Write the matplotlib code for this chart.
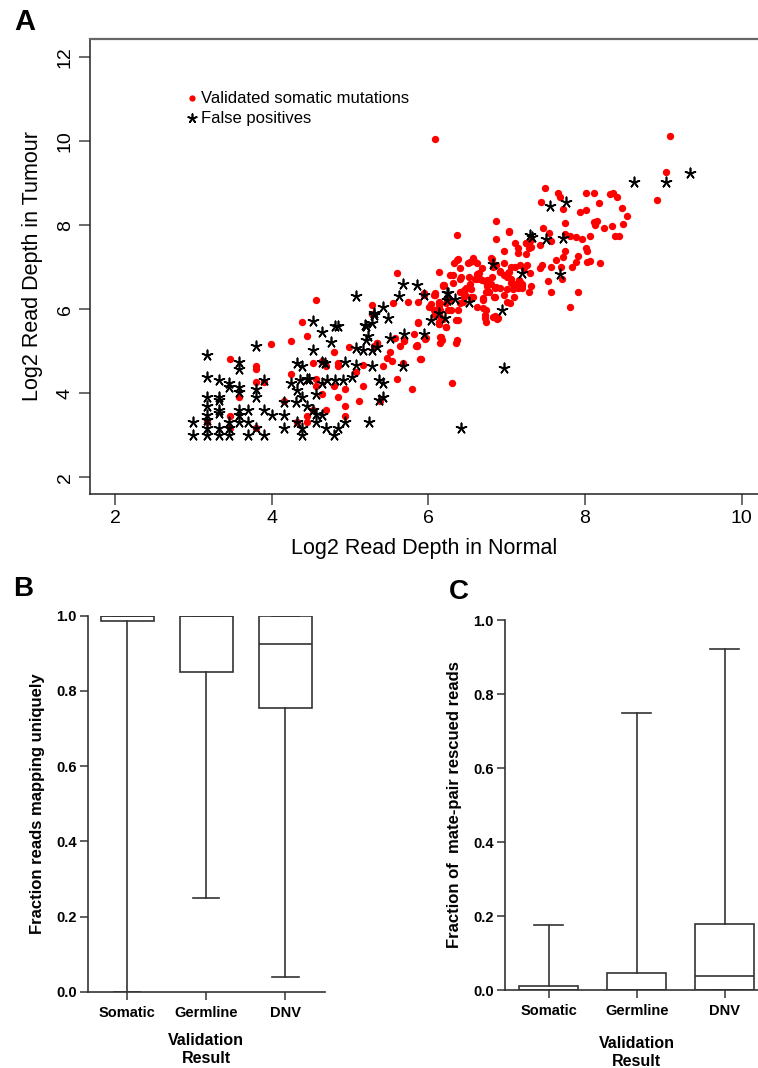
import matplotlib
matplotlib.use("Agg")
import matplotlib.pyplot as plt
from matplotlib import font_manager as fm
import numpy as np

# ---------------- data ----------------
# Panel A: validated somatic mutations (red dots), log2 read depth (normal, tumour)
som_x = [6.08, 9.09, 9.03, 8.92,
         7.49, 7.65, 7.68, 7.44, 7.72, 8.01, 8.12, 8.18, 8.32, 8.36, 8.41, 8.47, 8.54, 7.94, 8.01, 7.74,
         8.11, 8.16, 8.13, 8.24, 8.34, 8.48, 8.38, 8.43, 8.06, 8.01, 8.02, 7.91, 7.89, 8.02, 8.06, 8.19,
         7.47, 7.54, 7.57, 7.43, 7.74, 7.81, 7.88, 7.96, 7.74, 7.72, 7.63, 7.70, 7.57, 7.45, 7.42, 7.53,
         7.57, 7.71, 7.91, 7.81, 7.84,
         6.87, 7.03, 6.87, 7.11, 6.36, 6.97, 7.15, 7.15, 7.25, 7.31, 7.31, 7.25, 7.03, 7.25, 7.29,
         7.17, 7.22, 7.30, 7.31, 7.29, 7.17, 7.20, 7.15, 7.06, 6.97, 6.80, 6.83, 6.91, 6.96, 7.02, 7.00,
         7.05, 7.09, 7.04, 7.01, 6.87, 7.26, 7.10, 6.92, 7.03, 7.06, 7.11, 7.16, 7.20, 7.19, 7.08, 6.96,
         7.00, 6.84,
         6.68, 6.75, 6.79, 6.74, 6.85, 6.91, 6.85, 6.70, 6.72, 6.82, 6.88, 6.74, 6.70, 6.64, 6.66, 6.74,
         6.75, 6.53, 6.57, 6.62, 6.38, 6.33, 6.41, 6.28, 6.14, 6.19, 6.40, 6.52, 6.53, 6.52, 6.55, 6.45,
         6.65, 6.38, 6.29, 6.25, 6.23, 6.14, 6.14, 6.08, 6.01, 6.08, 6.14, 6.23, 6.16, 6.17, 6.37, 6.35,
         5.96, 5.84, 5.89, 5.87, 5.74, 5.87, 5.69, 5.82,
         6.51, 6.58, 6.81, 6.42, 6.62, 6.69, 6.80, 6.81, 6.87, 6.70, 6.77, 6.57, 6.62, 6.74, 6.85, 6.89,
         6.72, 6.55, 6.45, 6.47, 6.28, 6.44, 6.38, 6.19, 6.07, 5.94, 6.15, 6.13, 6.08, 6.19, 6.14, 6.35,
         6.03, 5.97, 5.85, 6.40, 6.45, 6.32, 6.31, 6.48, 6.60, 6.62, 6.36, 6.40, 6.30,
         5.60, 6.20, 5.94, 6.08, 5.55, 6.07, 6.14, 6.25, 6.14, 6.22, 5.87, 5.34, 5.30, 5.57, 5.69, 5.64,
         6.15, 6.15, 5.85, 5.51, 5.47, 5.54, 5.67, 5.90, 5.42, 5.60, 5.79, 5.16, 5.38,
         4.57, 5.28, 4.38, 4.45, 4.24, 3.99, 3.46, 3.80, 3.80, 3.80, 3.90, 3.58, 3.46, 3.46, 3.17, 3.80,
         4.16, 4.32, 4.45, 4.45, 4.53, 4.57, 4.57, 4.64, 4.24, 4.52, 4.64, 4.69, 4.80, 4.85, 4.85, 4.99,
         5.08, 5.16, 4.69, 4.80, 4.85, 4.94, 4.94, 4.94, 5.12, 5.34, 5.28]
som_y = [10.06, 10.12, 9.27, 8.60,
         8.89, 8.76, 8.68, 8.54, 8.38, 8.77, 8.76, 8.52, 8.74, 8.77, 8.66, 8.41, 8.22, 8.31, 8.37, 8.04,
         8.08, 8.11, 8.00, 7.94, 7.98, 8.02, 7.74, 7.74, 7.74, 7.45, 7.39, 7.27, 7.13, 7.13, 7.14, 7.11,
         7.94, 7.82, 7.63, 7.53, 7.80, 7.74, 7.72, 7.67, 7.38, 7.25, 7.17, 7.01, 7.01, 7.05, 6.99, 6.67,
         6.40, 6.73, 6.40, 6.06, 7.01,
         8.10, 7.87, 7.66, 7.58, 7.76, 7.38, 7.45, 7.33, 7.57, 7.65, 7.49, 7.31, 7.84, 7.58, 7.45,
         7.05, 6.97, 6.87, 6.56, 6.40, 6.65, 6.58, 6.50, 7.01, 7.09, 7.21, 7.01, 6.89, 6.81, 6.85, 6.77,
         6.62, 6.30, 6.14, 6.16, 7.05, 7.05, 7.01, 6.91, 6.89, 6.73, 6.60, 6.69, 6.61, 6.50, 6.47, 6.34,
         6.47, 6.30,
         6.97, 6.69, 6.60, 6.42, 6.50, 6.50, 6.30, 6.02, 5.86, 5.82, 5.77, 5.69, 6.26, 6.77, 6.71, 6.65,
         6.55, 7.13, 7.21, 7.09, 7.19, 7.09, 6.97, 6.81, 6.89, 6.56, 6.71, 6.77, 6.61, 6.54, 6.30, 6.42,
         6.85, 5.74, 5.98, 6.22, 6.14, 6.18, 6.08, 6.38, 6.06, 5.86, 5.66, 5.58, 5.35, 5.27, 5.27, 5.19,
         5.29, 5.13, 4.82, 5.69, 6.16, 6.18, 5.27, 5.41,
         7.09, 7.15, 7.19, 6.77, 6.73, 6.69, 6.61, 6.77, 6.54, 6.23, 6.42, 6.30, 6.06, 5.98, 5.84, 5.78,
         5.78, 6.47, 6.46, 6.34, 6.22, 6.18, 5.98, 6.58, 6.34, 6.34, 5.98, 5.86, 5.90, 5.76, 5.65, 5.74,
         6.12, 5.31, 5.15, 6.42, 6.30, 6.81, 6.62, 6.50, 6.73, 6.84, 7.17, 6.15, 4.24,
         6.85, 6.58, 6.39, 6.35, 6.14, 5.98, 6.14, 5.98, 5.70, 5.58, 5.68, 5.20, 5.13, 5.32, 5.25, 5.13,
         5.33, 5.20, 5.13, 4.97, 4.83, 4.77, 4.71, 4.81, 4.65, 4.33, 4.09, 4.17, 3.82,
         6.22, 6.10, 5.70, 5.37, 5.25, 5.17, 4.81, 4.66, 4.58, 4.26, 4.26, 3.90, 3.47, 3.18, 3.32, 3.18,
         3.82, 3.32, 3.46, 3.32, 3.60, 4.33, 4.17, 3.99, 4.47, 4.71, 4.77, 4.65, 4.97, 4.71, 4.65, 5.11,
         4.51, 4.67, 3.60, 4.17, 3.90, 4.09, 3.70, 3.47, 3.82, 5.19, 5.88]

# Panel A: false positives (asterisks)
fp_x = [3.17, 3.80, 4.52, 4.64, 4.81, 4.85, 4.75, 4.52, 5.20, 5.28, 5.23, 5.31, 5.07, 5.16, 5.28, 5.34,
        5.28, 3.58, 3.58, 3.17, 3.32, 3.45, 3.45, 3.58, 3.58, 3.80, 3.80, 3.90,
        3.17, 3.17, 3.17, 3.17, 3.17, 3.17, 3.32, 3.32, 3.32, 3.32, 3.32, 3.32, 3.00, 3.00,
        3.45, 3.45, 3.45, 3.58, 3.58, 3.58, 3.70, 3.70, 3.70, 3.80, 3.90, 3.90, 4.00,
        4.16, 4.16, 4.16, 4.32, 4.39, 4.24, 4.32, 4.39, 4.31, 4.45, 4.47, 4.36, 4.57, 4.64, 4.70,
        4.81, 4.91, 5.03, 4.45, 4.53, 4.57, 4.64, 4.64, 4.68, 4.94, 5.07, 4.94, 4.85, 4.69, 4.57,
        4.39, 4.39, 4.80, 4.32, 5.24, 5.37, 5.37,
        5.67, 5.85, 5.63, 5.94, 6.24, 6.24, 6.14, 6.21, 6.03, 5.48, 5.42, 5.31, 5.19, 5.20, 5.51,
        5.94, 5.67, 5.42, 5.42, 5.07, 5.69,
        8.63, 9.03, 9.34, 7.55, 7.76, 7.30, 7.32, 7.50, 7.72, 6.83, 7.19, 7.68, 6.94, 6.52, 6.34,
        6.25, 6.97, 6.42]
fp_y = [4.91, 5.12, 5.73, 5.45, 5.60, 5.60, 5.21, 5.04, 5.61, 5.68, 5.36, 5.86, 5.08, 5.03, 5.03, 5.11,
        4.65, 4.75, 4.58, 4.39, 4.32, 4.24, 4.16, 4.16, 4.04, 4.09, 3.92, 4.32,
        3.90, 3.70, 3.48, 3.36, 3.17, 3.01, 3.90, 3.84, 3.60, 3.54, 3.17, 3.01, 3.32, 3.01,
        3.32, 3.17, 3.01, 3.60, 3.48, 3.32, 3.60, 3.32, 3.01, 3.17, 3.60, 3.01, 3.48,
        3.80, 3.48, 3.17, 4.71, 4.65, 4.25, 4.08, 3.92, 3.80, 4.33, 4.33, 4.32, 3.99, 4.24, 4.32,
        4.32, 4.32, 4.39, 3.70, 3.60, 3.51, 3.48, 4.75, 4.71, 4.75, 4.67, 3.32, 3.17, 3.17, 3.32,
        3.17, 3.01, 3.01, 3.32, 3.32, 4.32, 3.84,
        6.61, 6.58, 6.32, 6.35, 6.38, 6.22, 5.90, 5.78, 5.74, 5.78, 6.06, 5.90, 5.62, 5.27, 5.32,
        5.41, 4.65, 4.25, 3.92, 6.32, 5.40,
        9.03, 9.02, 9.23, 8.46, 8.54, 7.77, 7.71, 7.67, 7.70, 7.07, 6.85, 6.84, 5.98, 6.18, 6.24,
        6.39, 4.59, 3.17]

# Panel B / C box-plot summaries
categories = ["Somatic", "Germline", "DNV"]
uniq_q1 = [0.985, 0.85, 0.755]
uniq_med = [1.0, 1.0, 0.925]
uniq_q3 = [1.0, 1.0, 1.0]
uniq_lo = [0.0, 0.25, 0.04]
uniq_hi = [1.0, 1.0, 1.0]

mate_q1 = [0.0, 0.0, 0.0]
mate_med = [0.0, 0.0, 0.037]
mate_q3 = [0.012, 0.045, 0.178]
mate_lo = [0.0, 0.0, 0.0]
mate_hi = [0.175, 0.75, 0.922]

yticks_box = [0.0, 0.2, 0.4, 0.6, 0.8, 1.0]
ticks_a = [2, 4, 6, 8, 10]
yticks_a = [2, 4, 6, 8, 10, 12]

# ---------------- fonts ----------------
avail = {f.name for f in fm.fontManager.ttflist}
narrow = ['Liberation Sans Narrow', 'Liberation Sans'] if 'Liberation Sans Narrow' in avail else ['Liberation Sans']
bold = ['Liberation Sans', 'DejaVu Sans']
plt.rcParams['font.family'] = bold

W, H = 758, 1068
fig = plt.figure(figsize=(W / 100, H / 100), dpi=100)

def fx(px):
    return px / W

def fy(py):
    return 1 - py / H

# ---------------- Panel A ----------------
axA = fig.add_axes([fx(90.3), fy(493.7), 1 - fx(90.3), fy(39) - fy(493.7)])
axA.scatter(som_x, som_y, s=28, c='#ff0000', marker='o', linewidths=0,
            label='Validated somatic mutations', zorder=3)
axA.scatter(fp_x, fp_y, s=55, c='black', marker=(5, 2, 0), linewidths=1.2,
            label='False positives', zorder=4)
axA.set_xlim(1.682, 10.21)
axA.set_ylim(1.61, 12.43)
axA.set_xticks(ticks_a)
axA.set_yticks(yticks_a)
axA.spines['right'].set_visible(False)
axA.spines['top'].set_color('#666666')
axA.spines['top'].set_linewidth(1.6)
for s in ['left', 'bottom']:
    axA.spines[s].set_color('#222222')
    axA.spines[s].set_linewidth(1.1)
axA.tick_params(axis='both', direction='out', length=8, width=1.1, color='#444444',
                labelsize=14, pad=4)
for lab in axA.get_xticklabels() + axA.get_yticklabels():
    lab.set_family(narrow)
for lab in axA.get_yticklabels():
    lab.set_rotation(90)
    lab.set_va('center')
axA.set_xlabel('Log2 Read Depth in Normal', fontsize=15.5, family=narrow, labelpad=8)
axA.set_ylabel('Log2 Read Depth in Tumour', fontsize=15.5, family=narrow, labelpad=10)
leg = axA.legend(loc='upper left', bbox_to_anchor=(0.128, 0.905), frameon=False,
                 handletextpad=0.0, handlelength=1.0, borderpad=0, labelspacing=0.3,
                 prop={'family': narrow, 'size': 12}, scatterpoints=1, markerscale=0.85)
fig.text(fx(14), fy(22), 'A', fontsize=21, fontweight='bold', family=narrow, va='center', ha='left')

# ---------------- box panels ----------------
def box_panel(rect, q1, med, q3, lo, hi, ylabel):
    ax = fig.add_axes(rect)
    stats = []
    for i, name in enumerate(categories):
        stats.append(dict(label=name, q1=q1[i], med=med[i], q3=q3[i],
                          whislo=lo[i], whishi=hi[i], fliers=[]))
    lc = '#333333'
    ax.bxp(stats, positions=[1, 2, 3], widths=0.67, capwidths=0.33, patch_artist=True,
           showfliers=False,
           boxprops=dict(facecolor='white', edgecolor=lc, linewidth=1.2),
           whiskerprops=dict(color=lc, linewidth=1.2),
           capprops=dict(color=lc, linewidth=1.2),
           medianprops=dict(color=lc, linewidth=1.2))
    ax.set_xlim(0.5, 3.5)
    ax.set_ylim(0, 1.0)
    ax.set_yticks(yticks_box)
    ax.set_yticklabels([f'{v:.1f}' for v in yticks_box])
    ax.set_xticks([1, 2, 3])
    ax.set_xticklabels(categories)
    for s in ['top', 'right']:
        ax.spines[s].set_visible(False)
    for s in ['left', 'bottom']:
        ax.spines[s].set_color(lc)
        ax.spines[s].set_linewidth(1.2)
    ax.tick_params(axis='y', direction='out', length=6, width=1.1, color=lc, labelsize=10.5, pad=2)
    ax.tick_params(axis='x', direction='out', length=6, width=1.1, color=lc, labelsize=10.5, pad=4)
    for lab in ax.get_xticklabels() + ax.get_yticklabels():
        lab.set_fontweight('bold')
    ax.set_ylabel(ylabel, fontsize=12, fontweight='bold', labelpad=8)
    ax.set_xlabel('Validation\nResult', fontsize=11.5, fontweight='bold', labelpad=10,
                  linespacing=1.25)
    return ax

axB = box_panel([fx(87.7), fy(991.7), fx(325) - fx(87.7), fy(615.7) - fy(991.7)],
                uniq_q1, uniq_med, uniq_q3, uniq_lo, uniq_hi,
                'Fraction reads mapping uniquely')
axC = box_panel([fx(505), fy(990), fx(768.4) - fx(505), fy(620) - fy(990)],
                mate_q1, mate_med, mate_q3, mate_lo, mate_hi,
                'Fraction of  mate-pair rescued reads')
axC.xaxis.labelpad = 13

fig.text(fx(13), fy(589), 'B', fontsize=20, fontweight='bold', va='center', ha='left')
fig.text(fx(449), fy(592), 'C', fontsize=20, fontweight='bold', va='center', ha='left')

fig.savefig('out.png', dpi=100)
